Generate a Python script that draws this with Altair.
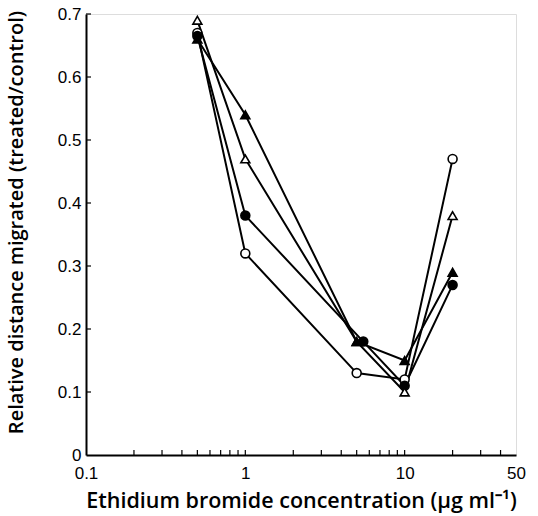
import altair as alt
import pandas as pd

# Data
conc_open_circle = [0.5, 1, 5, 10, 20]
val_open_circle = [0.67, 0.32, 0.13, 0.12, 0.47]
conc_filled_circle = [0.5, 1, 5.5, 10, 20]
val_filled_circle = [0.665, 0.38, 0.18, 0.11, 0.27]
conc_open_tri = [0.5, 1, 5, 10, 20]
val_open_tri = [0.69, 0.47, 0.18, 0.10, 0.38]
conc_filled_tri = [0.5, 1, 5, 10, 20]
val_filled_tri = [0.66, 0.54, 0.18, 0.15, 0.29]

series_names = ["open circle", "filled circle", "open triangle", "filled triangle"]
series_shapes = ["circle", "circle", "triangle-up", "triangle-up"]
series_fills = ["white", "black", "white", "black"]

x_labels = [0.1, 1, 10, 50]
x_minor = [0.2, 0.3, 0.4, 0.5, 0.6, 0.7, 0.8, 0.9,
           2, 3, 4, 5, 6, 7, 8, 9, 20, 30, 40]
y_ticks = [0.1, 0.2, 0.3, 0.4, 0.5, 0.6, 0.7]

rows = []
for name, xs, ys in [
    ("open circle", conc_open_circle, val_open_circle),
    ("filled circle", conc_filled_circle, val_filled_circle),
    ("open triangle", conc_open_tri, val_open_tri),
    ("filled triangle", conc_filled_tri, val_filled_tri),
]:
    for i, (xv, yv) in enumerate(zip(xs, ys)):
        rows.append({"series": name, "conc": xv, "val": yv, "order": i})
df = pd.DataFrame(rows)

W, H = 430, 441
FONT = "Liberation Sans"

xscale = alt.Scale(type="log", domain=[0.1, 50], nice=False)
yscale = alt.Scale(domain=[0, 0.7], nice=False, zero=True)

base = alt.Chart(df)

lines = base.mark_line(color="black", strokeWidth=2).encode(
    x=alt.X("conc:Q", scale=xscale,
            axis=alt.Axis(values=x_labels, tickSize=0, labelExpr="datum.value == 0.1 ? '0.1' : datum.label",
                          title="Ethidium bromide concentration (μg ml⁻¹)",
                          labelFont=FONT, labelFontSize=17, labelColor="black", labelPadding=10,
                          labelFlush=False,
                          titleFont="Open Sans", titleFontSize=21.5, titleFontWeight=600,
                          titleColor="black", titlePadding=9,
                          domainColor="black", domainWidth=2, grid=False)),
    y=alt.Y("val:Q", scale=yscale,
            axis=alt.Axis(values=[0, 0.1, 0.2, 0.3, 0.4, 0.5, 0.6, 0.7], tickSize=0,
                          labelExpr="datum.value == 0 ? '0' : format(datum.value, '.1f')",
                          title="Relative distance migrated (treated/control)",
                          labelFont=FONT, labelFontSize=17, labelColor="black", labelPadding=5,
                          labelFlush=False,
                          titleFont="Open Sans", titleFontSize=20, titleFontWeight=600,
                          titleColor="black", titleX=-60, titleY=208,
                          domainColor="black", domainWidth=2, grid=False)),
    detail="series:N",
    order="order:Q",
)

points = base.mark_point(size=80, filled=False, strokeWidth=1.6, opacity=1, stroke="black").encode(
    x=alt.X("conc:Q", scale=xscale),
    y=alt.Y("val:Q", scale=yscale),
    shape=alt.Shape("series:N", scale=alt.Scale(domain=series_names, range=series_shapes), legend=None),
    fill=alt.Fill("series:N", scale=alt.Scale(domain=series_names, range=series_fills), legend=None),
)

xtick_df = pd.DataFrame({"t": x_minor + [1, 10]})
xticks = alt.Chart(xtick_df).mark_rule(color="black", strokeWidth=1.2).encode(
    x=alt.X("t:Q", scale=xscale),
    y=alt.value(H),
    y2=alt.value(H - 5),
)

ytick_df = pd.DataFrame({"t": y_ticks})
yticks = alt.Chart(ytick_df).mark_rule(color="black", strokeWidth=1.2).encode(
    y=alt.Y("t:Q", scale=yscale),
    x=alt.value(0),
    x2=alt.value(5),
)

chart = alt.layer(xticks, yticks, lines, points).properties(
    width=W, height=H,
    autosize=alt.AutoSizeParams(type="none"),
    padding={"left": 86, "top": 14, "right": 22, "bottom": 61},
).configure_view(stroke=None).configure(background="white")

chart.save("out.html", embed_options={"renderer": "svg", "actions": False})
